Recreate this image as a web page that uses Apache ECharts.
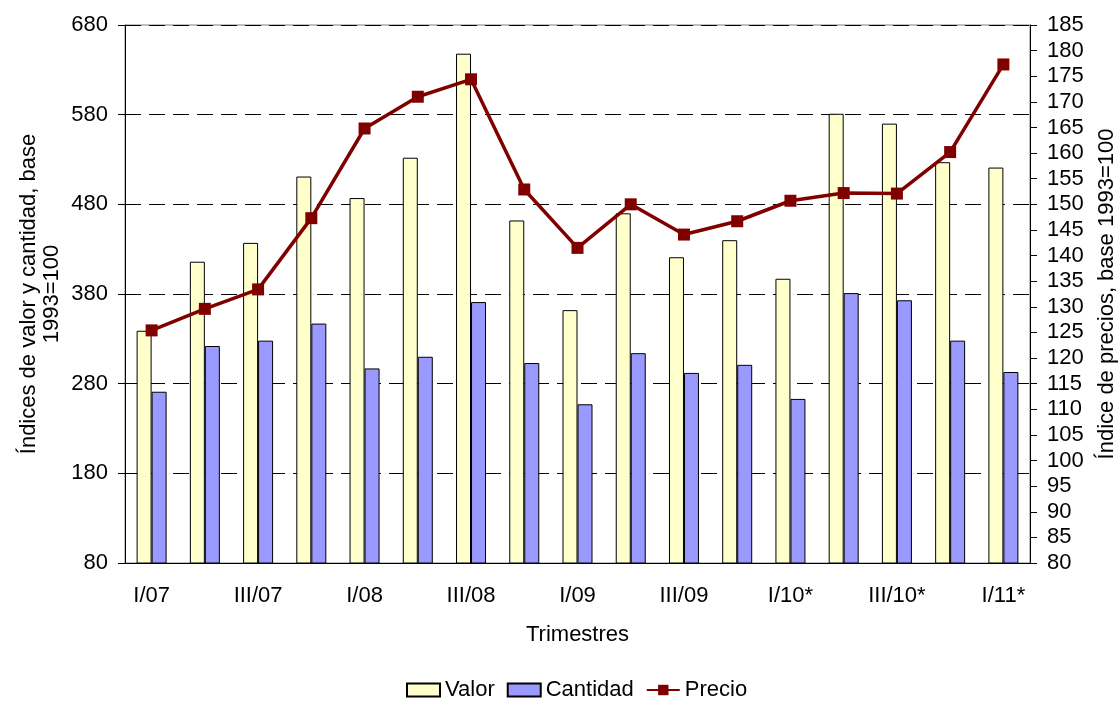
<!DOCTYPE html>
<html>
<head>
<meta charset="utf-8">
<script src="https://cdn.jsdelivr.net/npm/echarts@6/dist/echarts.min.js"></script>
<style>
html, body { margin: 0; padding: 0; background: #fff; }
#myChart { width: 1118px; height: 702px; }
</style>
</head>
<body>
<div id="myChart"></div>
<script>
const categories = ['I/07', 'II/07', 'III/07', 'IV/07', 'I/08', 'II/08', 'III/08', 'IV/08',
  'I/09', 'II/09', 'III/09', 'IV/09', 'I/10*', 'II/10*', 'III/10*', 'IV/10*', 'I/11*']
const valor = [339, 416, 437, 511, 487, 532, 648, 462, 362, 470, 421, 440, 397, 581, 570, 527, 521]
const cantidad = [271, 322, 328, 347, 297, 310, 371, 303, 257, 314, 292, 301, 263, 381, 373, 328, 293]
const precio = [125.4, 129.6, 133.4, 147.3, 164.8, 171.0, 174.4, 152.9, 141.5, 150.0, 144.1, 146.7,
  150.7, 152.2, 152.1, 160.2, 177.3]
const leftTicks = [80, 180, 280, 380, 480, 580, 680]
const leftTitle = 'Índices de valor y cantidad, base\n1993=100'

const font = 'Liberation Sans, Arial, sans-serif'
const myChart = echarts.init(document.getElementById('myChart'))
myChart.setOption({
  animation: false,
  textStyle: { fontFamily: font },
  grid: {
    left: 125,
    right: 88,
    top: 25,
    bottom: 139,
    outerBoundsMode: 'none',
    containLabel: false,
    show: true,
    borderColor: '#808080',
    borderWidth: 1
  },
  // titulo del eje izquierdo, en dos lineas
  graphic: [
    {
      type: 'text',
      x: 40,
      y: 294,
      rotation: Math.PI / 2,
      style: {
        text: leftTitle,
        fill: '#000',
        font: '22px "Liberation Sans", Arial, sans-serif',
        lineHeight: 23,
        align: 'center',
        verticalAlign: 'middle'
      }
    }
  ],
  legend: {
    bottom: 1,
    left: 406,
    padding: 0,
    itemWidth: 33,
    itemHeight: 13,
    itemGap: 12,
    textStyle: { fontSize: 22, color: '#000', fontFamily: font },
    data: [
      { name: 'Valor', icon: 'rect' },
      { name: 'Cantidad', icon: 'rect' },
      { name: 'Precio' }
    ]
  },
  xAxis: {
    type: 'category',
    data: categories,
    name: 'Trimestres',
    nameLocation: 'middle',
    nameGap: 61,
    nameTextStyle: { fontSize: 22, color: '#000' },
    axisLine: { lineStyle: { color: '#000' } },
    axisTick: { interval: 0, length: 6, lineStyle: { color: '#000' } },
    axisLabel: { interval: 1, fontSize: 22, color: '#000', margin: 22 }
  },
  yAxis: [
    {
      type: 'value',
      min: 80,
      max: 680,
      axisLine: { show: true, lineStyle: { color: '#000' } },
      axisTick: { show: true, length: 7, customValues: leftTicks, lineStyle: { color: '#000' } },
      axisLabel: { fontSize: 22, color: '#000', margin: 17, customValues: leftTicks },
      splitLine: { show: true, lineStyle: { color: '#000', type: [16, 8], width: 1 } }
    },
    {
      type: 'value',
      min: 80,
      max: 185,
      interval: 5,
      name: 'Índice de precios, base 1993=100',
      nameLocation: 'middle',
      nameRotate: 90,
      nameGap: 66,
      nameTextStyle: { fontSize: 22, color: '#000' },
      axisLine: { show: true, lineStyle: { color: '#000' } },
      axisTick: { show: true, length: 7, lineStyle: { color: '#000' } },
      axisLabel: { fontSize: 22, color: '#000', margin: 17 },
      splitLine: { show: false }
    }
  ],
  series: [
    {
      name: 'Valor',
      type: 'bar',
      data: valor,
      barWidth: 15,
      barGap: '0%',
      itemStyle: { color: '#FFFFCC', borderColor: '#000', borderWidth: 1 }
    },
    {
      name: 'Cantidad',
      type: 'bar',
      data: cantidad,
      barWidth: 15,
      barGap: '0%',
      itemStyle: { color: '#9999FF', borderColor: '#000', borderWidth: 1 }
    },
    {
      name: 'Precio',
      type: 'line',
      yAxisIndex: 1,
      data: precio,
      symbol: 'rect',
      symbolSize: 12,
      z: 5,
      lineStyle: { color: '#800000', width: 3.5 },
      itemStyle: { color: '#800000' }
    }
  ]
})
</script>
</body>
</html>
